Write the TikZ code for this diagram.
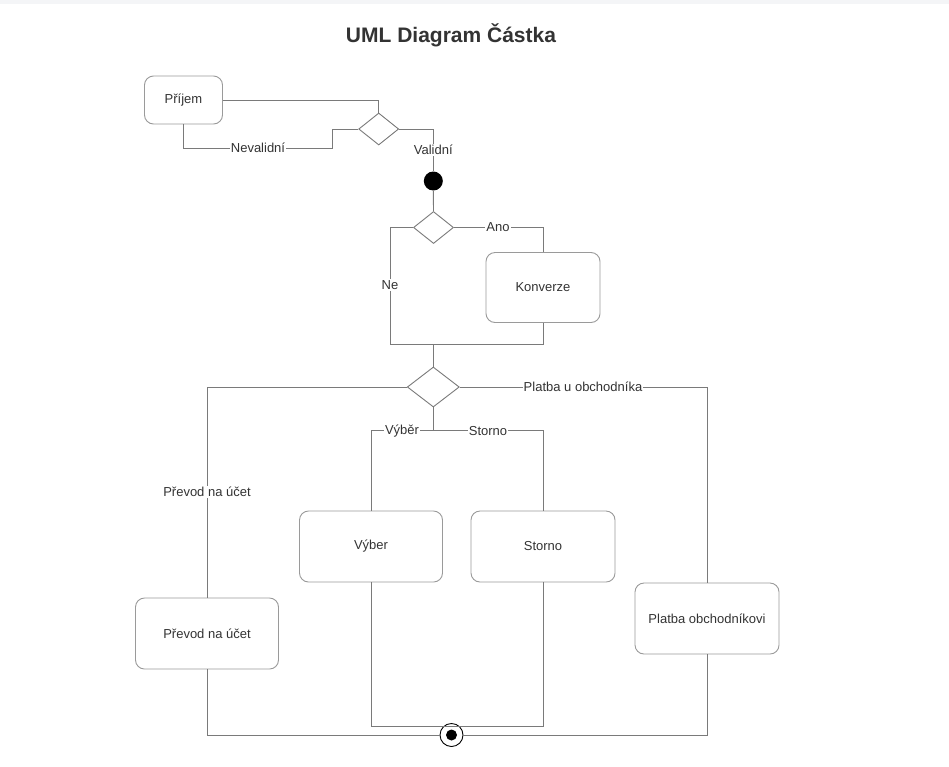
\documentclass[tikz,border=0pt]{standalone}
\usepackage{fontspec}
\setmainfont{Liberation Sans}
\usetikzlibrary{shapes.geometric}
\definecolor{txt}{HTML}{333333}
\definecolor{ln}{HTML}{7A7A7A}
\definecolor{bx}{HTML}{9A9A9A}
\definecolor{strip}{HTML}{F4F5F7}
\tikzset{
  x=1pt, y=-1pt,
  every node/.style={text=txt, font=\fontsize{13}{15}\selectfont},
  actbox/.style={draw=bx, line width=0.9pt, rounded corners=9pt, fill=white, inner sep=0pt},
  decis/.style={draw=ln, line width=0.9pt, diamond, inner sep=0pt, fill=white},
  conn/.style={draw=ln, line width=0.9pt},
  lbl/.style={fill=white, inner sep=1pt},
}
\begin{document}
\begin{tikzpicture}
\useasboundingbox (0,0) rectangle (949,766);
\fill[white] (0,0) rectangle (949,766);
\fill[strip] (0,0) rectangle (949,3.5);
\node[font=\bfseries\fontsize{21}{24}\selectfont] (title) at (451,35) {UML Diagram Částka};

% nodes
\node[actbox, minimum width=78pt, minimum height=48pt] (prijem) at (183.5,100) {Příjem};
\node[decis, minimum width=40pt, minimum height=32pt] (d1) at (378.7,129) {};
\node[circle, fill=black, minimum size=19pt, inner sep=0pt] (start) at (433.3,181) {};
\node[decis, minimum width=40pt, minimum height=32pt] (d2) at (433.5,227.5) {};
\node[actbox, minimum width=114pt, minimum height=70pt] (konverze) at (543,287.5) {Konverze};
\node[decis, minimum width=52pt, minimum height=40pt] (d3) at (433.3,387) {};
\node[actbox, minimum width=143pt, minimum height=71pt] (vyber) at (371,546.5) {Výber};
\node[actbox, minimum width=144pt, minimum height=71pt] (storno) at (543,546.5) {Storno};
\node[actbox, minimum width=143pt, minimum height=71pt] (prevod) at (207,633.5) {Převod na účet};
\node[actbox, minimum width=144pt, minimum height=71pt] (platba) at (707,618.5) {Platba obchodníkovi};
\node[circle, draw=black, line width=0.9pt, fill=white, minimum size=23pt, inner sep=0pt] (final) at (451.5,735) {};
\node[circle, fill=black, minimum size=11pt, inner sep=0pt] (finalin) at (451.5,735) {};

% helper coordinates
\coordinate (m1) at (433.3,344.3);
\coordinate (m2) at (433.3,430.7);
\coordinate (m3) at (543,726);

% connectors
\begin{scope}[on background layer/.style={}]
\draw[conn] (prijem.east) -| (d1.north);
\draw[conn] (d1.west) -| (332,148) -| (prijem.south);
\draw[conn] (d1.east) -| (start.north);
\draw[conn] (start.south) -- (d2.north);
\draw[conn] (d2.west) -| (390,344.3) -- (m1);
\draw[conn] (d2.east) -| (konverze.north);
\draw[conn] (konverze.south) |- (m1) -- (d3.north);
\draw[conn] (d3.west) -| (prevod.north);
\draw[conn] (d3.east) -| (platba.north);
\draw[conn] (d3.south) -- (m2);
\draw[conn] (m2) -| (vyber.north);
\draw[conn] (m2) -| (storno.north);
\draw[conn] (vyber.south) |- (m3) -- (storno.south);
\draw[conn] (prevod.south) |- (final.west);
\draw[conn] (platba.south) |- (final.east);
\end{scope}

% labels
\node[lbl] (lnev) at (258,148) {Nevalidní};
\node[lbl] (lval) at (433.3,150) {Validní};
\node[lbl] (lano) at (498,227.5) {Ano};
\node[lbl] (lne) at (390,285) {Ne};
\node[lbl] (lprev) at (207,492) {Převod na účet};
\node[lbl] (lplat) at (583,387) {Platba u obchodníka};
\node[lbl] (lvyb) at (402,430.7) {Výběr};
\node[lbl] (lsto) at (488,430.7) {Storno};
\end{tikzpicture}
\end{document}
